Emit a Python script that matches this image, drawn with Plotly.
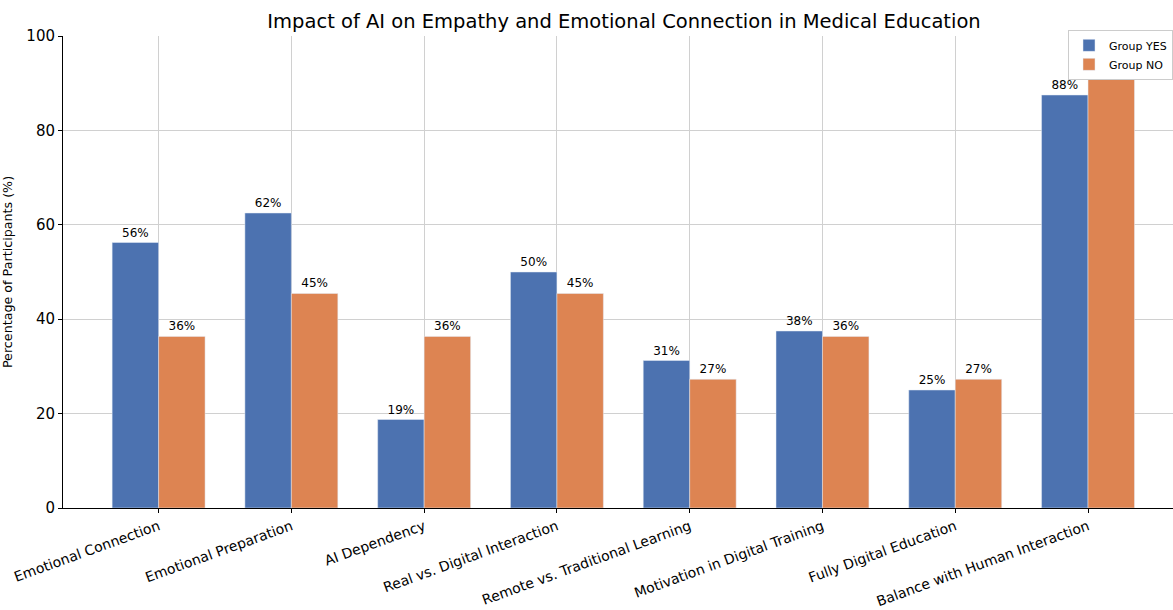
import plotly.graph_objects as go

categories = ["Emotional Connection", "Emotional Preparation", "AI Dependency",
              "Real vs. Digital Interaction", "Remote vs. Traditional Learning",
              "Motivation in Digital Training", "Fully Digital Education",
              "Balance with Human Interaction"]
group_yes = [56.25, 62.5, 18.75, 50.0, 31.25, 37.5, 25.0, 87.5]
group_no = [36.36, 45.45, 36.36, 45.45, 27.27, 36.36, 27.27, 90.91]

BLUE = "#4c72b0"
ORANGE = "#dd8452"
FONT = "DejaVu Sans"

def labels(vals):
    return [f"{v:.0f}%" for v in vals]

fig = go.Figure()
fig.add_trace(go.Bar(x=categories, y=group_yes, name="Group YES", marker_color=BLUE,
                     text=labels(group_yes), textposition="outside", cliponaxis=False,
                     textfont=dict(size=12, color="black", family=FONT)))
fig.add_trace(go.Bar(x=categories, y=group_no, name="Group NO", marker_color=ORANGE,
                     text=labels(group_no), textposition="outside", cliponaxis=False,
                     textfont=dict(size=12, color="black", family=FONT)))

fig.update_layout(
    width=1173, height=610,
    margin=dict(l=63, r=0, t=36, b=102),
    paper_bgcolor="white", plot_bgcolor="white",
    barmode="group", bargap=0.3, bargroupgap=0,
    font=dict(family=FONT, color="black"),
    title=dict(text="Impact of AI on Empathy and Emotional Connection in Medical Education",
               x=0.532, xanchor="center", y=0.965, yanchor="middle",
               font=dict(size=19.5, family=FONT, color="black")),
    legend=dict(x=1.0, y=1.013, xanchor="right", yanchor="top",
                bgcolor="white", bordercolor="#cccccc", borderwidth=1,
                font=dict(size=11, family=FONT)),
)
fig.update_xaxes(range=[-0.72, 7.64], showgrid=True, gridcolor="#d0d0d0", gridwidth=1,
                 showline=True, linecolor="black", linewidth=1,
                 ticks="outside", ticklen=4, tickcolor="black",
                 tickangle=-20, tickfont=dict(size=14, family=FONT))
fig.update_yaxes(range=[0, 100], dtick=20, showgrid=True, gridcolor="#d0d0d0", gridwidth=1,
                 showline=True, linecolor="black", linewidth=1,
                 ticks="outside", ticklen=4, tickcolor="black", zeroline=False,
                 tickfont=dict(size=15, family=FONT),
                 title=dict(text="Percentage of Participants (%)", font=dict(size=12.7, family=FONT),
                            standoff=14))

fig.write_html("out.html")
